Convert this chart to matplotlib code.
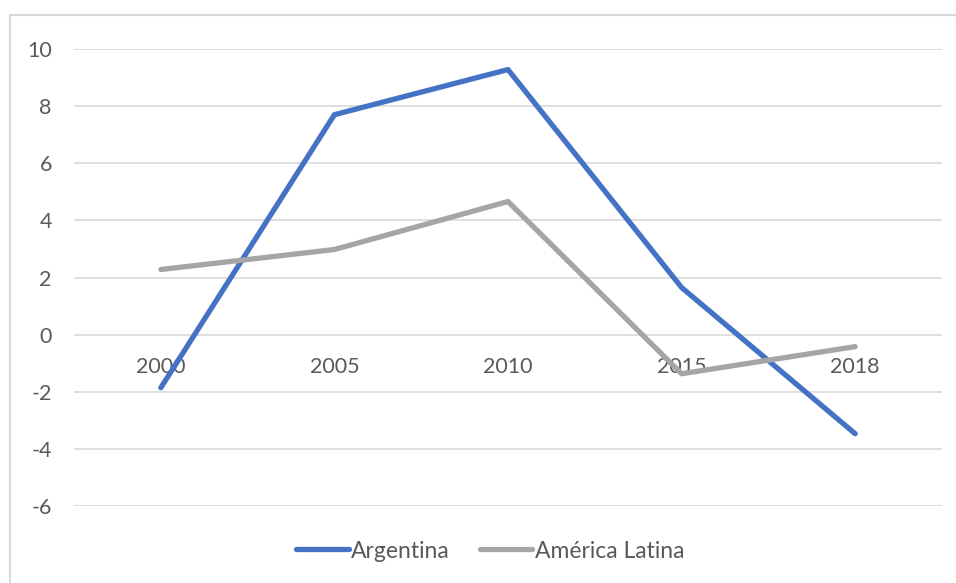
import matplotlib
matplotlib.use("Agg")
import matplotlib.pyplot as plt
from matplotlib.patches import Rectangle

plt.rcParams['font.family'] = ['Lato', 'DejaVu Sans']
plt.rcParams['axes.unicode_minus'] = False

years = ['2000', '2005', '2010', '2015', '2018']
argentina = [-1.86, 7.70, 9.28, 1.65, -3.47]
america_latina = [2.28, 2.98, 4.66, -1.37, -0.42]

text_color = '#595959'
grid_color = '#D9D9D9'

fig = plt.figure(figsize=(9.56, 5.83), dpi=100)
ax = fig.add_axes([74 / 956, 77 / 583, 868 / 956, 457 / 583])

x = range(len(years))
ax.plot(x, argentina, color='#4472C4', lw=3.8, solid_capstyle='round',
        solid_joinstyle='round', label='Argentina', zorder=3)
ax.plot(x, america_latina, color='#A5A5A5', lw=3.8, solid_capstyle='round',
        solid_joinstyle='round', label='América Latina', zorder=3)

ax.set_xlim(-0.5, len(years) - 0.5)
ax.set_ylim(-6, 10)
ax.set_yticks(range(-6, 11, 2))
ax.set_xticks(list(x))
ax.set_xticklabels(years)
ax.yaxis.grid(True, color=grid_color, lw=1.2)
ax.set_axisbelow(True)

for side in ['top', 'right', 'left']:
    ax.spines[side].set_visible(False)
ax.spines['bottom'].set_position(('data', 0))
ax.spines['bottom'].set_visible(False)

ax.tick_params(axis='y', length=0, pad=16, labelsize=15.5, labelcolor=text_color)
ax.tick_params(axis='x', length=0, pad=16, labelsize=15.5, labelcolor=text_color)

leg = fig.legend(loc='center', bbox_to_anchor=(490 / 956, 32 / 583), ncol=2,
                 frameon=False, fontsize=16.5, handlelength=2.3, handletextpad=0.1,
                 columnspacing=1.3)
for t in leg.get_texts():
    t.set_color(text_color)
for h in leg.get_lines():
    h.set_solid_capstyle('round')

fig.patches.append(Rectangle((10 / 956, -0.1), 1.1, (583 - 15) / 583 + 0.1,
                             transform=fig.transFigure, fill=False,
                             edgecolor=grid_color, lw=1.5))

fig.savefig('out.png', dpi=100)
